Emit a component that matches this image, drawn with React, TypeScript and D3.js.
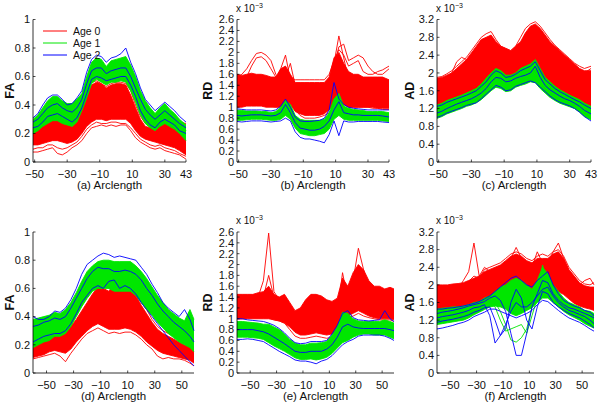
import React from "react";
import * as d3 from "d3";

// ---------- sample positions (arclength) ----------
const xTop = [-51, -48, -45, -42, -39, -36, -33, -30, -27, -24, -21, -18, -15, -12, -9, -6, -3, 0, 3, 6, 9, 12, 15, 18, 21, 24, 27, 30, 33, 36, 39, 43];
const xBottom = [-60, -56, -52, -48, -44, -40, -36, -32, -28, -24, -20, -16, -12, -8, -4, 0, 4, 8, 12, 16, 20, 24, 28, 32, 36, 40, 44, 48, 52, 56, 59];

const xTicksTop = [-50, -30, -10, 10, 30, 43];
const xTicksBottom = [-50, -30, -10, 10, 30, 50];
const faTicks = [0, 0.2, 0.4, 0.6, 0.8, 1];
const rdTicks = [0, 0.2, 0.4, 0.6, 0.8, 1, 1.2, 1.4, 1.6, 1.8, 2, 2.2, 2.4, 2.6];
const adTicks = [0, 0.4, 0.8, 1.2, 1.6, 2, 2.4, 2.8, 3.2];
const legendLabels = ["Age 0", "Age 1", "Age 2"];

// ---------- (a) FA ----------
const aRedHi = [0.24,0.25,0.27,0.29,0.30,0.30,0.28,0.27,0.25,0.28,0.38,0.48,0.54,0.56,0.55,0.52,0.54,0.55,0.55,0.54,0.47,0.38,0.30,0.25,0.24,0.27,0.30,0.29,0.27,0.25,0.22,0.18];
const aRedLo = [0.12,0.12,0.13,0.14,0.15,0.15,0.14,0.13,0.14,0.16,0.20,0.25,0.28,0.30,0.30,0.29,0.30,0.30,0.30,0.30,0.27,0.22,0.18,0.16,0.15,0.14,0.13,0.12,0.11,0.10,0.08,0.05];
const aRedLines = [
  [0.07,0.07,0.08,0.09,0.10,0.06,0.05,0.07,0.10,0.12,0.15,0.20,0.24,0.25,0.26,0.25,0.26,0.25,0.26,0.26,0.22,0.17,0.14,0.12,0.10,0.09,0.10,0.08,0.07,0.06,0.05,0.02],
  [0.09,0.10,0.10,0.12,0.12,0.10,0.09,0.10,0.12,0.14,0.18,0.23,0.26,0.28,0.27,0.27,0.28,0.28,0.27,0.27,0.24,0.20,0.16,0.14,0.12,0.11,0.12,0.10,0.09,0.08,0.06,0.04],
  [0.26,0.27,0.28,0.30,0.32,0.31,0.29,0.28,0.26,0.30,0.42,0.52,0.56,0.57,0.55,0.53,0.55,0.56,0.56,0.55,0.50,0.40,0.32,0.27,0.25,0.28,0.31,0.30,0.29,0.28,0.28,0.27],
];
const aGreenHi = [0.30,0.33,0.38,0.43,0.46,0.46,0.43,0.41,0.41,0.44,0.48,0.60,0.70,0.73,0.72,0.67,0.71,0.72,0.73,0.74,0.68,0.60,0.50,0.43,0.38,0.34,0.38,0.41,0.37,0.34,0.30,0.26];
const aGreenLo = [0.20,0.22,0.25,0.27,0.29,0.29,0.27,0.26,0.25,0.28,0.36,0.45,0.55,0.58,0.56,0.54,0.56,0.56,0.57,0.56,0.50,0.42,0.33,0.27,0.24,0.22,0.25,0.27,0.25,0.23,0.20,0.15];
const aGreenLines = [
  [0.27,0.29,0.33,0.37,0.40,0.40,0.37,0.35,0.34,0.37,0.44,0.56,0.67,0.70,0.69,0.64,0.68,0.69,0.70,0.71,0.64,0.56,0.46,0.39,0.34,0.30,0.34,0.37,0.33,0.30,0.27,0.22],
];
const aBlueLines = [
  [0.31,0.34,0.40,0.45,0.47,0.47,0.44,0.40,0.41,0.45,0.50,0.63,0.72,0.75,0.74,0.70,0.73,0.74,0.76,0.80,0.70,0.62,0.52,0.44,0.40,0.36,0.39,0.42,0.39,0.36,0.32,0.28],
  [0.28,0.30,0.34,0.38,0.40,0.41,0.38,0.36,0.35,0.38,0.44,0.55,0.64,0.66,0.66,0.62,0.64,0.65,0.66,0.66,0.60,0.52,0.44,0.37,0.33,0.30,0.33,0.36,0.33,0.30,0.27,0.24],
  [0.24,0.25,0.28,0.32,0.33,0.34,0.32,0.30,0.28,0.31,0.38,0.48,0.58,0.60,0.59,0.57,0.58,0.59,0.60,0.60,0.54,0.46,0.36,0.30,0.26,0.24,0.28,0.30,0.28,0.26,0.22,0.20],
];

// ---------- (b) RD (x 1e-3) ----------
const bRedHi = [1.60,1.58,1.60,1.62,1.60,1.60,1.58,1.55,1.55,1.70,1.75,1.60,1.45,1.45,1.45,1.45,1.45,1.45,1.45,1.55,1.90,2.00,1.80,1.65,1.60,1.60,1.55,1.55,1.55,1.55,1.55,1.50];
const bRedLo = [1.00,1.00,1.02,1.02,1.02,1.02,1.00,1.00,1.00,1.00,1.05,1.05,0.92,0.88,0.85,0.85,0.85,0.85,0.88,0.95,1.05,1.10,1.05,1.00,1.00,1.00,1.00,1.00,1.00,0.98,0.98,0.98];
const bRedLines = [
  [1.35,1.30,1.35,1.40,1.38,1.35,1.35,1.40,1.45,1.70,1.95,1.50,1.30,1.25,1.25,1.20,1.20,1.25,1.30,1.40,1.80,2.30,1.90,1.50,1.40,1.35,1.35,1.35,1.30,1.30,1.30,1.30],
  [1.55,1.60,1.70,1.85,1.98,2.00,1.95,1.85,1.60,1.50,1.55,1.80,1.40,1.40,1.40,1.40,1.40,1.40,1.42,1.50,1.75,2.10,2.15,1.85,1.90,1.95,1.90,1.75,1.65,1.60,1.60,1.70],
  [1.10,1.05,1.05,1.08,1.10,1.10,1.05,1.02,1.00,1.02,1.08,1.12,0.95,0.85,0.80,0.80,0.80,0.82,0.85,0.90,1.00,1.10,1.05,1.00,1.00,1.00,1.00,1.00,0.98,0.98,0.96,0.96],
  [1.45,1.50,1.55,1.75,1.90,1.92,1.85,1.70,1.55,1.60,1.65,1.55,1.50,1.50,1.50,1.50,1.50,1.50,1.50,1.60,1.85,2.05,1.95,1.75,1.80,1.85,1.65,1.60,1.60,1.65,1.68,1.75],
];
const bGreenHi = [0.95,0.94,0.93,0.93,0.93,0.92,0.92,0.90,0.92,1.00,1.12,1.05,0.85,0.78,0.76,0.76,0.76,0.76,0.78,0.90,1.15,1.25,1.02,0.98,0.96,0.95,0.94,0.92,0.92,0.92,0.92,0.90];
const bGreenLo = [0.76,0.76,0.77,0.78,0.78,0.78,0.77,0.76,0.76,0.78,0.85,0.78,0.62,0.52,0.50,0.48,0.48,0.50,0.52,0.60,0.78,0.85,0.78,0.76,0.76,0.76,0.76,0.76,0.76,0.76,0.75,0.74];
const bGreenLines: number[][] = [];
const bBlueLines = [
  [0.97,0.96,0.95,0.95,0.95,0.95,0.94,0.93,0.95,1.02,1.15,1.00,0.82,0.75,0.74,0.74,0.75,0.76,0.80,0.95,1.45,1.15,1.05,1.00,0.98,0.97,0.96,0.95,0.95,0.95,0.95,0.95],
  [0.74,0.73,0.74,0.75,0.75,0.75,0.74,0.73,0.74,0.75,0.80,0.75,0.55,0.45,0.42,0.42,0.40,0.38,0.35,0.50,0.75,0.48,0.75,0.73,0.73,0.74,0.74,0.74,0.74,0.74,0.73,0.72],
  [0.85,0.84,0.85,0.86,0.86,0.86,0.85,0.84,0.85,0.90,1.05,0.90,0.72,0.62,0.60,0.58,0.58,0.60,0.65,0.75,0.95,1.10,0.90,0.88,0.86,0.86,0.85,0.85,0.85,0.85,0.84,0.82],
];

// ---------- (c) AD (x 1e-3) ----------
const cRedHi = [1.88,1.90,1.95,2.00,2.10,2.20,2.30,2.45,2.60,2.75,2.80,2.85,2.70,2.60,2.55,2.50,2.60,2.70,2.90,3.05,3.10,3.00,2.85,2.70,2.60,2.50,2.40,2.30,2.20,2.10,2.05,2.05];
const cRedLo = [1.25,1.30,1.35,1.40,1.45,1.48,1.52,1.58,1.62,1.70,1.82,1.92,1.95,1.90,1.85,1.88,1.92,1.98,2.05,2.10,2.15,2.05,1.88,1.78,1.68,1.60,1.55,1.50,1.45,1.38,1.30,1.25];
const cRedLines = [
  [1.90,1.92,1.98,2.05,2.15,2.25,2.35,2.50,2.65,2.80,2.88,2.93,2.75,2.60,2.55,2.50,2.60,2.80,3.00,3.10,3.15,3.05,2.90,2.75,2.62,2.52,2.42,2.32,2.22,2.15,2.10,2.15],
  [1.80,1.85,1.90,2.00,2.25,2.35,2.30,2.30,2.40,2.60,2.70,2.75,2.60,2.45,2.35,2.30,2.40,2.60,2.85,3.00,3.05,2.95,2.75,2.60,2.50,2.40,2.30,2.20,2.12,2.05,2.00,2.10],
];
const cGreenHi = [1.28,1.32,1.38,1.42,1.46,1.50,1.55,1.60,1.65,1.75,1.88,2.00,2.10,2.05,1.95,1.95,2.00,2.10,2.15,2.20,2.30,2.10,1.90,1.80,1.70,1.62,1.56,1.50,1.45,1.40,1.32,1.25];
const cGreenLo = [0.98,1.02,1.08,1.12,1.16,1.20,1.25,1.28,1.33,1.40,1.50,1.60,1.68,1.65,1.58,1.60,1.68,1.72,1.75,1.80,1.78,1.65,1.55,1.45,1.38,1.32,1.28,1.24,1.20,1.12,1.02,0.95];
const cGreenLines: number[][] = [];
const cBlueLines = [
  [1.00,1.04,1.10,1.14,1.18,1.22,1.27,1.30,1.33,1.42,1.52,1.62,1.72,1.68,1.60,1.62,1.70,1.74,1.78,1.82,1.78,1.68,1.58,1.48,1.40,1.34,1.30,1.26,1.20,1.12,1.02,0.92],
  [1.10,1.14,1.20,1.25,1.30,1.34,1.38,1.42,1.48,1.55,1.65,1.80,1.90,1.88,1.80,1.82,1.88,1.92,1.95,2.00,2.15,1.90,1.72,1.62,1.55,1.48,1.42,1.38,1.32,1.25,1.16,1.08],
  [1.25,1.28,1.34,1.38,1.42,1.46,1.50,1.55,1.60,1.70,1.80,1.95,2.05,2.00,1.90,1.92,1.97,2.05,2.10,2.15,2.25,2.05,1.85,1.75,1.65,1.58,1.52,1.46,1.40,1.35,1.28,1.20],
];

// ---------- (d) FA ----------
const dRedHi = [0.25,0.26,0.27,0.29,0.30,0.29,0.30,0.33,0.38,0.44,0.50,0.56,0.61,0.60,0.58,0.63,0.58,0.60,0.62,0.55,0.48,0.42,0.36,0.31,0.28,0.26,0.24,0.22,0.20,0.19,0.17];
const dRedLo = [0.11,0.12,0.13,0.15,0.16,0.15,0.14,0.17,0.22,0.26,0.30,0.33,0.35,0.33,0.31,0.31,0.31,0.32,0.31,0.29,0.26,0.22,0.19,0.16,0.14,0.13,0.12,0.11,0.10,0.09,0.07];
const dRedLines = [
  [0.10,0.11,0.12,0.13,0.14,0.12,0.08,0.14,0.19,0.24,0.28,0.30,0.32,0.30,0.28,0.29,0.28,0.29,0.29,0.27,0.24,0.20,0.17,0.12,0.10,0.11,0.10,0.10,0.09,0.07,0.05],
  [0.26,0.28,0.30,0.32,0.31,0.30,0.32,0.36,0.42,0.48,0.54,0.60,0.63,0.62,0.60,0.68,0.60,0.62,0.64,0.58,0.50,0.45,0.38,0.33,0.30,0.28,0.26,0.24,0.22,0.20,0.18],
];
const dGreenHi = [0.38,0.39,0.40,0.41,0.43,0.42,0.45,0.50,0.57,0.65,0.72,0.76,0.79,0.80,0.80,0.79,0.79,0.79,0.79,0.76,0.72,0.67,0.61,0.55,0.50,0.45,0.42,0.39,0.37,0.45,0.38];
const dGreenLo = [0.18,0.20,0.22,0.23,0.26,0.26,0.28,0.33,0.40,0.47,0.53,0.58,0.60,0.60,0.60,0.58,0.58,0.58,0.58,0.55,0.50,0.45,0.41,0.36,0.32,0.28,0.25,0.22,0.20,0.18,0.15];
const dGreenLines: number[][] = [];
const dBlueLines = [
  [0.40,0.38,0.38,0.40,0.44,0.43,0.46,0.52,0.60,0.70,0.77,0.80,0.83,0.85,0.84,0.82,0.83,0.82,0.81,0.80,0.75,0.70,0.63,0.57,0.50,0.46,0.43,0.40,0.45,0.38,0.30],
  [0.33,0.34,0.36,0.37,0.39,0.38,0.40,0.46,0.53,0.60,0.67,0.72,0.75,0.74,0.74,0.72,0.72,0.73,0.72,0.70,0.66,0.60,0.55,0.49,0.44,0.40,0.36,0.33,0.30,0.26,0.22],
  [0.22,0.24,0.26,0.27,0.28,0.28,0.30,0.35,0.42,0.50,0.55,0.60,0.62,0.60,0.65,0.66,0.60,0.62,0.60,0.56,0.50,0.45,0.40,0.35,0.30,0.25,0.20,0.16,0.12,0.08,0.05],
];

// ---------- (e) RD (x 1e-3) ----------
const eRedHi = [1.45,1.45,1.45,1.45,1.48,1.50,1.60,1.45,1.40,1.45,1.30,1.15,1.20,1.35,1.45,1.45,1.42,1.35,1.32,1.38,1.75,1.60,1.85,2.00,1.90,1.70,1.60,1.60,1.55,1.58,1.55];
const eRedLo = [1.00,1.00,1.00,1.00,1.00,1.00,1.00,0.98,0.96,0.92,0.85,0.75,0.70,0.70,0.72,0.74,0.72,0.70,0.72,0.78,1.00,1.05,1.10,1.15,1.10,1.05,1.02,1.00,1.00,1.00,0.98];
const eRedLines = [
  [1.30,1.30,1.32,1.35,1.40,1.70,2.58,1.50,1.35,1.38,1.20,1.05,1.05,1.15,1.25,1.25,1.22,1.15,1.15,1.25,1.60,1.45,1.70,2.30,1.90,1.55,1.45,1.45,1.40,1.42,1.40],
  [1.20,1.20,1.22,1.25,1.30,1.40,1.80,1.40,1.25,1.25,1.10,0.95,0.95,1.05,1.10,1.10,1.08,1.00,1.00,1.10,1.85,1.35,1.50,1.70,1.60,1.40,1.30,1.30,1.30,1.30,1.28],
  [1.00,1.00,1.02,1.02,1.02,1.02,1.02,0.98,0.96,0.92,0.80,0.68,0.64,0.64,0.66,0.68,0.66,0.64,0.66,0.74,1.00,1.02,1.05,1.10,1.05,1.02,1.00,0.98,0.98,0.98,0.95],
];
const eGreenHi = [0.95,0.95,0.94,0.93,0.92,0.90,0.90,0.85,0.80,0.72,0.62,0.55,0.52,0.52,0.55,0.55,0.56,0.58,0.70,0.85,1.12,1.10,1.00,0.96,0.95,0.95,0.95,0.95,0.98,0.95,0.92];
const eGreenLo = [0.66,0.66,0.66,0.65,0.64,0.62,0.56,0.50,0.45,0.40,0.34,0.28,0.25,0.25,0.26,0.24,0.26,0.29,0.36,0.46,0.56,0.60,0.66,0.70,0.72,0.72,0.70,0.70,0.70,0.66,0.63];
const eGreenLines: number[][] = [];
const eBlueLines = [
  [1.00,1.00,0.98,0.97,0.96,0.95,0.92,0.88,0.82,0.74,0.64,0.56,0.54,0.55,0.58,0.58,0.58,0.60,0.72,0.88,1.10,1.15,1.02,0.98,0.97,0.96,0.97,0.98,1.15,1.00,0.95],
  [0.62,0.62,0.63,0.62,0.60,0.58,0.52,0.46,0.40,0.35,0.30,0.24,0.22,0.22,0.20,0.17,0.22,0.25,0.32,0.42,0.52,0.58,0.62,0.68,0.70,0.70,0.70,0.70,0.68,0.64,0.60],
  [0.80,0.80,0.80,0.80,0.78,0.76,0.72,0.66,0.60,0.54,0.47,0.40,0.38,0.38,0.40,0.40,0.40,0.44,0.52,0.66,0.85,0.90,0.85,0.83,0.82,0.82,0.82,0.82,0.82,0.80,0.78],
];

// ---------- (f) AD (x 1e-3) ----------
const fRedHi = [2.00,2.00,2.00,2.02,2.03,2.05,2.10,2.15,2.20,2.30,2.35,2.40,2.45,2.55,2.65,2.70,2.65,2.55,2.50,2.60,2.60,2.60,2.70,2.75,2.60,2.35,2.20,2.05,1.98,1.95,1.95];
const fRedLo = [1.35,1.38,1.40,1.42,1.45,1.48,1.50,1.52,1.55,1.60,1.65,1.72,1.80,1.85,1.90,1.90,1.85,1.78,1.68,1.62,1.72,1.80,1.82,1.85,1.78,1.68,1.58,1.52,1.48,1.45,1.42];
const fRedLines = [
  [1.80,1.80,1.82,1.85,1.90,2.10,2.30,2.95,2.20,2.40,2.30,2.30,2.35,2.50,2.60,2.85,2.60,2.45,2.40,2.75,2.50,2.50,2.75,2.95,2.60,2.30,2.15,2.00,2.10,2.15,2.00],
  [1.95,1.95,1.97,2.00,2.00,2.02,2.08,2.20,2.15,2.35,2.40,2.45,2.50,2.60,2.70,2.75,2.70,2.60,2.55,2.65,2.70,2.65,2.75,2.80,2.65,2.40,2.25,2.10,2.02,2.00,2.05],
];
const fGreenHi = [1.45,1.47,1.48,1.50,1.50,1.52,1.55,1.60,1.62,1.70,1.75,1.85,1.95,2.00,2.10,2.15,2.10,2.00,1.90,2.10,2.40,2.25,2.00,1.85,1.70,1.60,1.55,1.50,1.42,1.40,1.35];
const fGreenLo = [1.10,1.12,1.14,1.16,1.18,1.20,1.25,1.32,1.38,1.44,1.50,1.52,1.50,1.45,1.35,1.30,1.35,1.42,1.48,1.60,1.70,1.70,1.60,1.50,1.40,1.32,1.26,1.20,1.12,1.06,1.02];
const fGreenLines = [
  [1.30,1.32,1.35,1.38,1.40,1.42,1.45,1.50,1.52,1.58,1.60,1.50,1.20,0.95,1.00,1.05,1.10,0.90,1.30,1.70,2.45,2.00,1.75,1.65,1.55,1.45,1.40,1.35,1.30,1.25,1.20],
  [1.20,1.22,1.25,1.28,1.30,1.33,1.38,1.42,1.45,1.50,1.55,1.60,1.40,1.10,0.75,0.70,0.80,1.00,1.50,1.80,2.10,1.90,1.65,1.55,1.45,1.38,1.32,1.28,1.22,1.15,1.10],
];
const fBlueLines = [
  [1.00,1.02,1.05,1.08,1.12,1.15,1.20,1.28,1.33,1.38,1.45,1.45,1.40,1.35,1.30,1.25,1.30,1.35,1.42,1.55,1.65,1.62,1.52,1.42,1.33,1.25,1.20,1.15,1.08,1.00,0.95],
  [1.25,1.28,1.30,1.32,1.35,1.38,1.42,1.48,1.50,1.55,1.30,0.68,0.85,1.10,1.40,1.60,1.50,1.50,1.60,1.75,1.90,1.95,1.75,1.60,1.50,1.42,1.38,1.33,1.28,1.20,1.12],
  [1.35,1.38,1.40,1.42,1.45,1.48,1.52,1.55,1.58,1.62,1.70,1.75,1.65,1.40,0.90,0.40,0.40,0.90,1.50,1.80,2.10,2.05,1.80,1.65,1.55,1.48,1.45,1.40,1.35,1.30,1.25],
  [1.45,1.45,1.47,1.48,1.50,1.52,1.55,1.58,1.62,1.68,1.75,1.85,1.95,2.05,2.15,2.20,2.10,2.00,1.95,2.10,2.20,2.30,2.00,1.80,1.65,1.58,1.52,1.48,1.42,1.38,1.30],
  [1.15,1.18,1.20,1.22,1.25,1.28,1.32,1.38,1.42,1.48,1.50,1.20,0.85,1.00,1.60,1.90,1.70,1.20,1.00,1.50,1.85,1.80,1.60,1.50,1.42,1.35,1.30,1.25,1.18,1.10,1.02],
];

// ---------- styling / layout ----------
const FONT = "'Liberation Sans', Arial, Helvetica, sans-serif";
const RED = "#ff0000";
const GREEN = "#00e600";
const BLUE = "#0000ff";

type PanelSpec = {
  letter: string; yLabel: string; exp: boolean;
  left: number; right: number; top: number; bottom: number; yLabelX: number;
  xs: number[]; xDomain: [number, number]; xTicks: number[];
  yMax: number; yTicks: number[];
  redLo: number[]; redHi: number[]; redLines: number[][];
  greenLo: number[]; greenHi: number[]; greenLines: number[][];
  blueLines: number[][];
};

const TOP_ROW = { top: 19.5, bottom: 162 };
const BOT_ROW = { top: 232, bottom: 373 };

const panels: PanelSpec[] = [
  { letter: "a", yLabel: "FA", exp: false, left: 33, right: 186, ...TOP_ROW, yLabelX: 10,
    xs: xTop, xDomain: [-51, 43], xTicks: xTicksTop, yMax: 1, yTicks: faTicks,
    redLo: aRedLo, redHi: aRedHi, redLines: aRedLines, greenLo: aGreenLo, greenHi: aGreenHi, greenLines: aGreenLines, blueLines: aBlueLines },
  { letter: "b", yLabel: "RD", exp: true, left: 237, right: 389, ...TOP_ROW, yLabelX: 208,
    xs: xTop, xDomain: [-51, 43], xTicks: xTicksTop, yMax: 2.6, yTicks: rdTicks,
    redLo: bRedLo, redHi: bRedHi, redLines: bRedLines, greenLo: bGreenLo, greenHi: bGreenHi, greenLines: bGreenLines, blueLines: bBlueLines },
  { letter: "c", yLabel: "AD", exp: true, left: 437, right: 591, ...TOP_ROW, yLabelX: 410,
    xs: xTop, xDomain: [-51, 43], xTicks: xTicksTop, yMax: 3.2, yTicks: adTicks,
    redLo: cRedLo, redHi: cRedHi, redLines: cRedLines, greenLo: cGreenLo, greenHi: cGreenHi, greenLines: cGreenLines, blueLines: cBlueLines },
  { letter: "d", yLabel: "FA", exp: false, left: 33, right: 194, ...BOT_ROW, yLabelX: 10,
    xs: xBottom, xDomain: [-60, 59], xTicks: xTicksBottom, yMax: 1, yTicks: faTicks,
    redLo: dRedLo, redHi: dRedHi, redLines: dRedLines, greenLo: dGreenLo, greenHi: dGreenHi, greenLines: dGreenLines, blueLines: dBlueLines },
  { letter: "e", yLabel: "RD", exp: true, left: 237, right: 394, ...BOT_ROW, yLabelX: 208,
    xs: xBottom, xDomain: [-60, 59], xTicks: xTicksBottom, yMax: 2.6, yTicks: rdTicks,
    redLo: eRedLo, redHi: eRedHi, redLines: eRedLines, greenLo: eGreenLo, greenHi: eGreenHi, greenLines: eGreenLines, blueLines: eBlueLines },
  { letter: "f", yLabel: "AD", exp: true, left: 437, right: 594, ...BOT_ROW, yLabelX: 410,
    xs: xBottom, xDomain: [-60, 59], xTicks: xTicksBottom, yMax: 3.2, yTicks: adTicks,
    redLo: fRedLo, redHi: fRedHi, redLines: fRedLines, greenLo: fGreenLo, greenHi: fGreenHi, greenLines: fGreenLines, blueLines: fBlueLines },
];

const fmtTick = (v: number) => {
  const s = d3.format("~g")(v);
  return s.replace("-", "\u2212");
};

function PanelView({ p, legend }: { p: PanelSpec; legend: boolean }) {
  const x = d3.scaleLinear().domain(p.xDomain).range([p.left, p.right]);
  const y = d3.scaleLinear().domain([0, p.yMax]).range([p.bottom, p.top]);
  const lineGen = d3.line<number>().x((_, i) => x(p.xs[i])).y((v) => y(v));
  const band = (lo: number[], hi: number[]) =>
    d3.area<number>().x((_, i) => x(p.xs[i])).y0((_, i) => y(lo[i])).y1((v) => y(v))(hi) ?? "";
  const sw = 0.9;
  return (
    <g>
      {/* Age 0 */}
      <path d={band(p.redLo, p.redHi)} fill={RED} />
      {[p.redLo, p.redHi, ...p.redLines].map((l, i) => (
        <path key={"r" + i} d={lineGen(l) ?? ""} fill="none" stroke={RED} strokeWidth={sw} />
      ))}
      {/* Age 1 */}
      <path d={band(p.greenLo, p.greenHi)} fill={GREEN} />
      {[p.greenLo, p.greenHi, ...p.greenLines].map((l, i) => (
        <path key={"g" + i} d={lineGen(l) ?? ""} fill="none" stroke={GREEN} strokeWidth={sw} />
      ))}
      {/* Age 2 */}
      {p.blueLines.map((l, i) => (
        <path key={"b" + i} d={lineGen(l) ?? ""} fill="none" stroke={BLUE} strokeWidth={sw} />
      ))}

      {/* axes */}
      <line x1={p.left} x2={p.left} y1={p.top} y2={p.bottom} stroke="#000" strokeWidth={0.8} />
      <line x1={p.left} x2={p.right} y1={p.bottom} y2={p.bottom} stroke="#000" strokeWidth={0.8} />
      {p.yTicks.map((t) => (
        <g key={"yt" + t}>
          <line x1={p.left} x2={p.left + 2.5} y1={y(t)} y2={y(t)} stroke="#000" strokeWidth={0.7} />
          <text x={p.left - 3} y={y(t)} dy="0.35em" textAnchor="end" fontSize={11} fontFamily={FONT} fill="#111">
            {fmtTick(t)}
          </text>
        </g>
      ))}
      {p.xTicks.map((t) => (
        <g key={"xt" + t}>
          <line x1={x(t)} x2={x(t)} y1={p.bottom} y2={p.bottom - 2.5} stroke="#000" strokeWidth={0.7} />
          <text x={x(t)} y={p.bottom + 15.5} textAnchor="middle" fontSize={11} fontFamily={FONT} fill="#111">
            {fmtTick(t)}
          </text>
        </g>
      ))}
      <text x={(p.left + p.right) / 2} y={p.bottom + 27} textAnchor="middle" fontSize={11.5} fontFamily={FONT} fill="#111">
        {`(${p.letter}) Arclength`}
      </text>
      <text
        transform={`translate(${p.yLabelX},${(p.top + p.bottom) / 2}) rotate(-90)`}
        dy="0.35em" textAnchor="middle" fontSize={12.5} fontWeight="bold" fontFamily={FONT} fill="#111"
      >
        {p.yLabel}
      </text>
      {p.exp && (
        <text x={p.left - 1} y={p.top - 8} fontSize={10} fontFamily={FONT} fill="#111">
          x 10<tspan dy={-4} fontSize={7}>{"\u22123"}</tspan>
        </text>
      )}
      {legend &&
        legendLabels.map((lab, i) => {
          const ly = 31 + i * 12;
          const c = [RED, GREEN, BLUE][i];
          return (
            <g key={lab}>
              <line x1={43} x2={67} y1={ly} y2={ly} stroke={c} strokeWidth={1} />
              <text x={73} y={ly} dy="0.35em" fontSize={10.5} fontFamily={FONT} fill="#111">{lab}</text>
            </g>
          );
        })}
    </g>
  );
}

export default function App() {
  return (
    <svg
      width={600}
      height={405}
      viewBox="0 0 600 405"
      style={{ position: "absolute", left: 0, top: 0, background: "#fff" }}
    >
      <rect x={0} y={0} width={600} height={405} fill="#fff" />
      {panels.map((p, i) => (
        <PanelView key={p.letter} p={p} legend={i === 0} />
      ))}
    </svg>
  );
}
